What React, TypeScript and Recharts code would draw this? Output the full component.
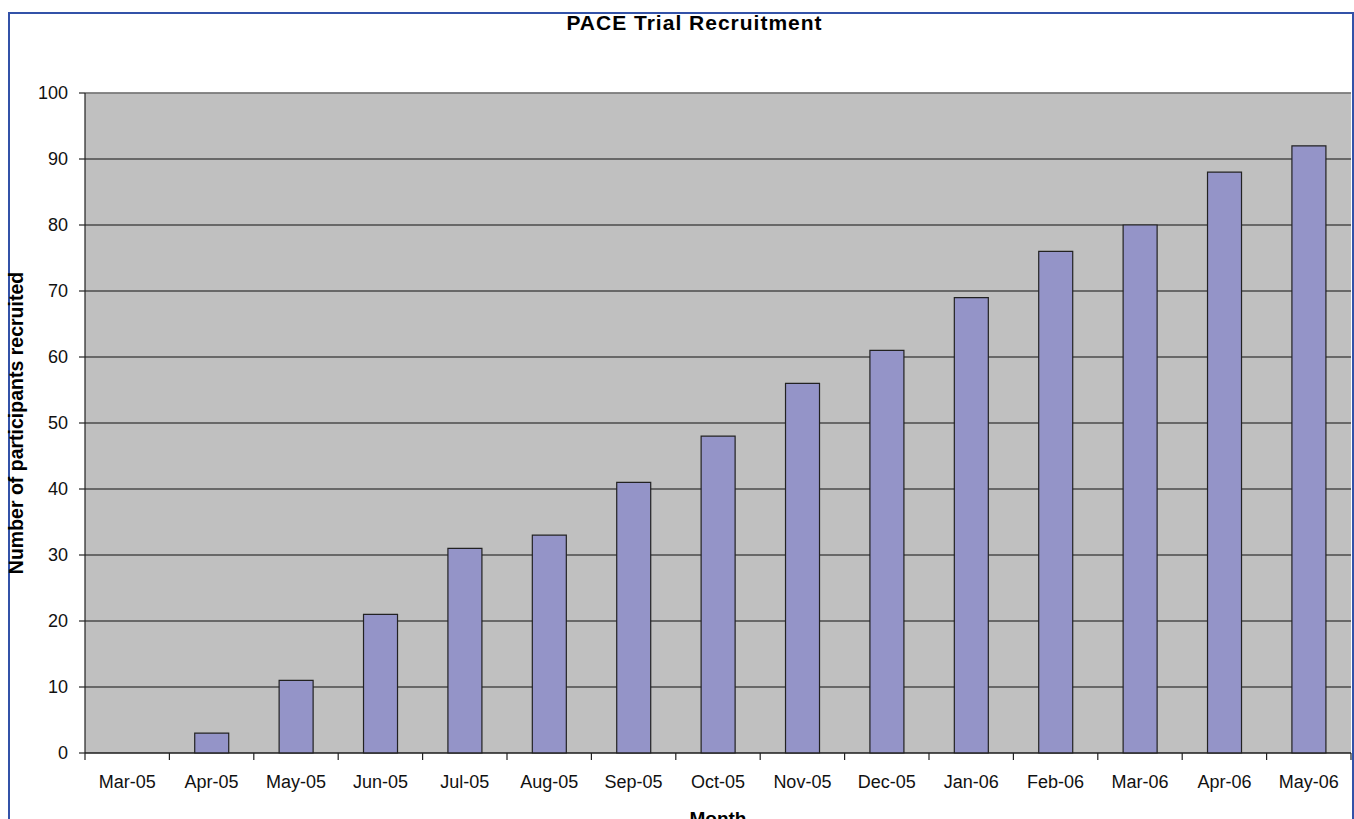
import React from 'react';
import { BarChart, Bar, XAxis, YAxis, CartesianGrid, ReferenceLine, Label } from 'recharts';

const months = ['Mar-05', 'Apr-05', 'May-05', 'Jun-05', 'Jul-05', 'Aug-05', 'Sep-05', 'Oct-05', 'Nov-05', 'Dec-05', 'Jan-06', 'Feb-06', 'Mar-06', 'Apr-06', 'May-06'];
const recruited = [0, 3, 11, 21, 31, 33, 41, 48, 56, 61, 69, 76, 80, 88, 92];
const yTicks = [0, 10, 20, 30, 40, 50, 60, 70, 80, 90, 100];

const data = months.map((m, i) => ({ month: m, value: recruited[i] }));

const FONT = '"Liberation Sans", Arial, sans-serif';

const XTick = (props: any) => {
  const { x, y, payload, index, visibleTicksCount, width } = props;
  const half = payload && payload.offset ? payload.offset : width / visibleTicksCount / 2;
  const isLast = index === visibleTicksCount - 1;
  return (
    <g>
      <line x1={x - half} x2={x - half} y1={y} y2={y + 7} stroke="#222" strokeWidth={1.2} />
      {isLast && <line x1={x + half} x2={x + half} y1={y} y2={y + 7} stroke="#222" strokeWidth={1.2} />}
      <text x={x} y={y + 35} textAnchor="middle" fontSize={18} fontFamily={FONT} fill="#111">
        {payload.value}
      </text>
    </g>
  );
};

const YTitle = (props: any) => {
  const vb = props.viewBox || { x: 0, y: 93, width: 85, height: 660 };
  const cx = vb.x + 23;
  const cy = vb.y + vb.height / 2;
  return (
    <text x={cx} y={cy} transform={`rotate(-90, ${cx}, ${cy})`} textAnchor="middle" fontSize={19.5} fontWeight="bold" fontFamily={FONT} fill="#000">
      Number of participants recruited
    </text>
  );
};

const XTitle = (props: any) => {
  const vb = props.viewBox || { x: 85, y: 753, width: 1266, height: 66 };
  const cx = vb.x + vb.width / 2;
  return (
    <text x={cx} y={vb.y + 72} textAnchor="middle" fontSize={19} fontWeight="bold" fontFamily={FONT} fill="#000">
      Month
    </text>
  );
};

export default function App() {
  return (
    <div style={{ position: 'fixed', left: 0, top: 0, width: 1354, height: 819, overflow: 'hidden', background: '#fff' }}>
      <div style={{ position: 'absolute', left: 8, top: 12, width: 1346, height: 900, boxSizing: 'border-box', border: '2px solid #3352a8' }} />
      <div style={{ position: 'absolute', left: 0, top: 0 }}>
        <BarChart width={1354} height={819} data={data} margin={{ top: 93, right: 3, bottom: 0, left: 0 }} barCategoryGap="30%">
          <CartesianGrid vertical={false} horizontal stroke="#111" strokeWidth={1.2} fill="#C0C0C0" fillOpacity={1} />
          <ReferenceLine y={100} stroke="#8a8a8a" strokeWidth={1.5} />
          <XAxis dataKey="month" interval={0} height={66} tickSize={0} tickMargin={0} tickLine={false} axisLine={{ stroke: '#222', strokeWidth: 1.2 }} tick={<XTick />}>
            <Label content={<XTitle />} />
          </XAxis>
          <YAxis domain={[0, 100]} ticks={yTicks} width={85} tickSize={6} tickMargin={11} interval={0} axisLine={{ stroke: '#222', strokeWidth: 1.2 }} tickLine={{ stroke: '#222', strokeWidth: 1.2 }} tick={{ fontSize: 18, fontFamily: FONT, fill: '#111' }}>
            <Label content={<YTitle />} />
          </YAxis>
          <Bar dataKey="value" fill="#9494C8" stroke="#222" strokeWidth={1.2} isAnimationActive={false} />
        </BarChart>
      </div>
      <div style={{ position: 'absolute', left: 0, top: 12, width: 1389, textAlign: 'center', fontFamily: FONT, fontWeight: 'bold', fontSize: 21, letterSpacing: 1, lineHeight: '21px', color: '#000' }}>
        PACE Trial Recruitment
      </div>
    </div>
  );
}
